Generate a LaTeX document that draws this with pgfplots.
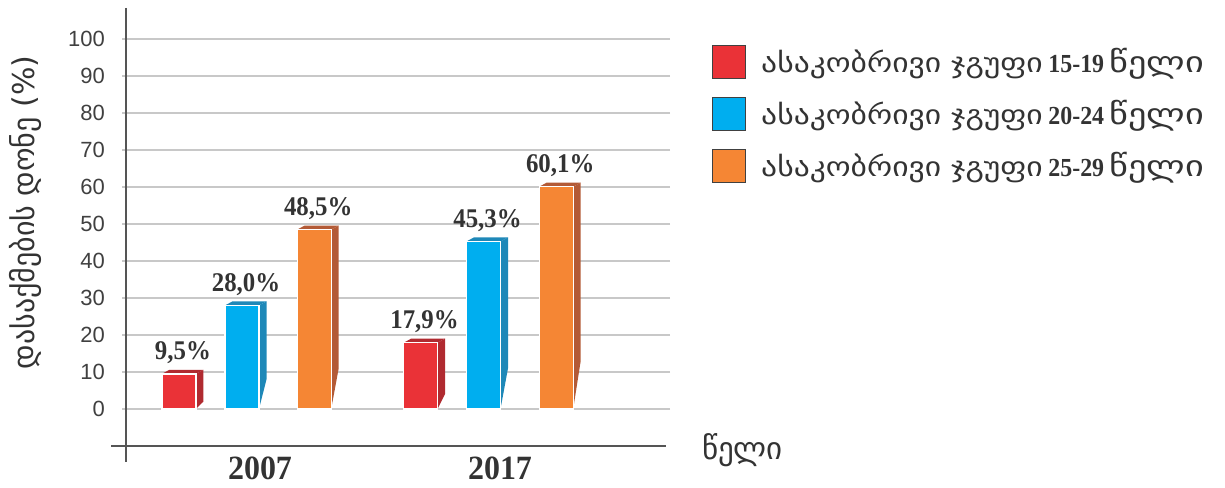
\documentclass[border=0pt]{standalone}
\usepackage{fontspec}
\usepackage{pgfplots}
\pgfplotsset{compat=1.18}
\setmainfont{Liberation Sans}
\newfontfamily\geo{DejaVu Sans}
\newfontfamily\geow[FakeStretch=1.17]{DejaVu Sans}
\newfontfamily\geox[FakeStretch=1.25]{DejaVu Sans}
\newfontfamily\seryear[FakeStretch=0.94]{Liberation Serif}
\newfontfamily\serval[FakeStretch=0.92]{Liberation Serif}
\definecolor{cred}{HTML}{EA3237}
\definecolor{cblue}{HTML}{00AEEF}
\definecolor{corange}{HTML}{F58634}
\definecolor{sred}{HTML}{B02A30}
\definecolor{sblue}{HTML}{1E88B8}
\definecolor{sorange}{HTML}{B35A36}
\definecolor{txt}{HTML}{333333}
\definecolor{ticktxt}{HTML}{404040}
\definecolor{gridc}{HTML}{C8C8C8}
\definecolor{axc}{HTML}{555555}
\newcommand{\leg}[1]{{\geow\fontsize{13.5}{16}\selectfont ასაკობრივი ჯგუფი} {\serval\bfseries\fontsize{13}{15}\selectfont #1} {\geox\fontsize{14.5}{16}\selectfont წელი}}
\begin{document}
\begin{tikzpicture}
\useasboundingbox (0,0) rectangle (612.5pt,243.5pt);
\begin{axis}[
  at={(63pt,20.5pt)}, anchor=south west,
  scale only axis, width=270pt, height=219pt,
  xmin=126, xmax=666, ymin=-10, ymax=108.4,
  clip=false,
  /pgf/number format/assume math mode=true,
  axis line style={draw=none},
  ytick={0,10,...,100},
  ymajorgrids, grid style={draw=gridc, line width=0.6pt},
  tick align=outside, major tick length=2pt,
  ytick style={draw=gridc, line width=0.6pt},
  xtick={260,500}, xticklabels={2007,2017},
  xtick style={draw=none},
  yticklabel style={font=\fontsize{11}{13}\selectfont, text=ticktxt, xshift=-5pt},
  xticklabel style={font=\seryear\bfseries\fontsize{17}{19}\selectfont, text=txt},
  legend style={at={(1.0852,0.9155)}, anchor=north west, draw=none, fill=none,
    inner sep=0pt, outer sep=0pt, row sep=8.8pt, cells={anchor=west},
    nodes={inner sep=0pt}, text=txt,
    /tikz/every odd column/.append style={column sep=7.5pt}},
  legend image code/.code={\draw[#1, draw=black!75, line width=0.6pt] (0pt,-8.25pt) rectangle (16.5pt,8.25pt);},
  nodes near coords={\pgfmathprintnumber[fixed, fixed zerofill, precision=1, use comma, assume math mode=true]{\pgfplotspointmeta}\%},
  every node near coord/.append style={font=\serval\bfseries\fontsize{13.5}{15}\selectfont, text=txt, anchor=base, yshift=7pt, xshift=2pt},
]
% legend entries
\addlegendimage{fill=cred}
\addlegendentry{\leg{15-19}}
\addlegendimage{fill=cblue}
\addlegendentry{\leg{20-24}}
\addlegendimage{fill=corange}
\addlegendentry{\leg{25-29}}

% side faces
\addplot[fill=sred, draw=none, forget plot, nodes near coords={}] coordinates {(195.9,0) (195.9,9.5) (203.4,10.6) (203.4,2)};
\addplot[fill=sblue, draw=none, forget plot, nodes near coords={}] coordinates {(259,0) (259,28.0) (266.5,29.1) (266.5,8)};
\addplot[fill=sorange, draw=none, forget plot, nodes near coords={}] coordinates {(331.2,0) (331.2,48.5) (338.7,49.6) (338.7,11)};
\addplot[fill=sred, draw=none, forget plot, nodes near coords={}] coordinates {(437.5,0) (437.5,17.9) (445,19.0) (445,4)};
\addplot[fill=sblue, draw=none, forget plot, nodes near coords={}] coordinates {(500.5,0) (500.5,45.3) (508,46.4) (508,11)};
\addplot[fill=sorange, draw=none, forget plot, nodes near coords={}] coordinates {(573.2,0) (573.2,60.1) (580.7,61.2) (580.7,13)};
% top faces
\addplot[fill=sred, draw=none, forget plot, nodes near coords={}] coordinates {(161.9,9.5) (169.4,10.6) (203.4,10.6) (195.9,9.5)};
\addplot[fill=sblue, draw=none, forget plot, nodes near coords={}] coordinates {(225,28.0) (232.5,29.1) (266.5,29.1) (259,28.0)};
\addplot[fill=sorange, draw=none, forget plot, nodes near coords={}] coordinates {(297.2,48.5) (304.7,49.6) (338.7,49.6) (331.2,48.5)};
\addplot[fill=sred, draw=none, forget plot, nodes near coords={}] coordinates {(403.5,17.9) (411,19.0) (445,19.0) (437.5,17.9)};
\addplot[fill=sblue, draw=none, forget plot, nodes near coords={}] coordinates {(466.5,45.3) (474,46.4) (508,46.4) (500.5,45.3)};
\addplot[fill=sorange, draw=none, forget plot, nodes near coords={}] coordinates {(539.2,60.1) (546.7,61.2) (580.7,61.2) (573.2,60.1)};
% front bars
\addplot[ybar, bar width=34, bar shift=0pt, fill=cred, draw=white, line width=0.7pt, forget plot] coordinates {(178.9,9.5) (420.5,17.9)};
\addplot[ybar, bar width=34, bar shift=0pt, fill=cblue, draw=white, line width=0.7pt, forget plot] coordinates {(242,28.0) (483.5,45.3)};
\addplot[ybar, bar width=34, bar shift=0pt, fill=corange, draw=white, line width=0.7pt, forget plot] coordinates {(314.2,48.5) (556.2,60.1)};

% axis lines
\draw[axc, line width=0.75pt] (axis cs:126,108.4) -- (axis cs:126,-14.3);
\draw[axc, line width=0.75pt] (axis cs:111,-10) -- (axis cs:666,-10);
% axis titles
\node[text=txt, font=\geo\fontsize{15.5}{17}\selectfont] at (axis cs:742.5,-11.1) {წელი};
\node[text=txt, rotate=90, font=\geo\fontsize{15}{17}\selectfont] at (axis cs:25,53.1) {დასაქმების დონე (\%)};
\end{axis}
\end{tikzpicture}
\end{document}
